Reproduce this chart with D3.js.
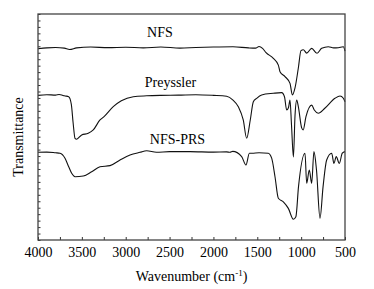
<!DOCTYPE html>
<html>
<head>
<meta charset="utf-8">
<script src="https://cdn.jsdelivr.net/npm/d3@7"></script>
<style>
  body { margin: 0; background: #fff; }
</style>
</head>
<body>
<div id="content"></div>
<script>
// FT-IR spectra, [wavenumber (cm-1), transmittance (a.u.)]
const nfs = [[4000,84.6],[3900,85.0],[3800,85.2],[3700,84.9],[3640,84.3],[3560,85.0],[3400,85.4],[3200,85.1],
  [3000,85.3],[2800,85.0],[2600,85.4],[2381,84.9],[2200,85.2],[2000,85.4],[1777,85.5],[1600,85.0],[1520,84.9],
  [1480,85.6],[1440,84.8],[1400,82.9],[1317,80.4],[1260,77.4],[1241,74.5],[1184,72.3],[1127,69.3],[1100,64.2],[1070,67.3],
  [1032,76.1],[1002,83.8],[975,84.2],[937,82.7],[880,84.8],[819,82.6],[766,84.8],[690,85.5],[630,85.0],
  [576,85.1],[519,85.5],[500,83.6]];

const preyssler = [[4000,64.0],[3900,64.3],[3800,64.1],[3760,64.4],[3730,64.2],[3700,63.8],[3650,63.4],
  [3620,60.0],[3600,52.0],[3578,45.0],[3560,44.6],[3502,46.5],[3427,47.2],[3370,48.7],[3293,53.1],[3250,54.5],
  [3142,59.0],[3050,61.6],[2914,63.4],[2761,63.8],[2600,64.0],[2400,64.1],[2200,64.3],[2000,64.0],[1850,63.6],
  [1777,61.9],[1716,59.0],[1660,53.1],[1621,45.0],[1580,53.1],[1545,61.2],[1507,62.7],[1450,64.2],[1317,64.9],
  [1222,65.2],[1190,63.4],[1165,57.5],[1145,58.5],[1127,61.9],[1110,51.0],[1088,36.7],[1070,55.0],[1050,61.9],
  [1032,59.0],[994,49.6],[977,48.7],[945,54.6],[880,59.7],[850,57.5],[805,56.1],[730,58.3],[614,62.7],
  [557,63.7],[519,62.7],[500,61.2]];

const nfsPrs = [[4000,38.8],[3900,38.9],[3800,38.6],[3749,38.4],[3692,36.2],[3650,32.4],[3616,29.5],[3578,28.0],
  [3484,28.3],[3388,30.2],[3293,32.4],[3179,32.9],[3065,35.4],[2951,37.6],[2837,38.8],[2761,39.5],[2650,38.8],
  [2500,39.1],[2267,39.1],[2000,38.9],[1850,39.0],[1811,38.8],[1780,39.2],[1678,36.9],[1629,33.2],[1590,38.4],
  [1560,38.4],[1480,38.6],[1375,38.4],[1336,36.2],[1298,28.0],[1260,18.5],[1203,16.9],[1146,14.0],[1089,9.2],
  [1060,10.3],[1030,23.6],[956,38.4],[937,25.1],[907,31.0],[880,25.1],[854,39.1],[825,31.0],[785,9.6],
  [750,23.6],[709,35.4],[652,38.4],[626,33.9],[600,36.9],[565,33.9],[531,38.4],[500,39.1]];

const seriesNames = ["NFS", "Preyssler", "NFS-PRS"];
const xTickLabels = [4000, 3500, 3000, 2500, 2000, 1500, 1000, 500];

const W = 374, H = 289;
const margin = {left: 38, right: 29, top: 14, bottom: 49};
const FONT = "'Liberation Serif', 'Times New Roman', Times, serif";

const svg = d3.select("#content").append("svg")
    .attr("width", W).attr("height", H)
    .attr("font-family", FONT);

const x = d3.scaleLinear().domain([4000, 500]).range([margin.left, W - margin.right]);
const y = d3.scaleLinear().domain([0, 100]).range([H - margin.bottom, margin.top]);

const line = d3.line()
    .x(d => x(d[0]))
    .y(d => y(d[1]))
    .curve(d3.curveMonotoneX);

const series = [nfs, preyssler, nfsPrs];
svg.selectAll(".spec")
    .data(series)
    .enter()
        .append("path")
        .attr("class", "spec")
        .attr("fill", "none")
        .attr("stroke", "#111")
        .attr("stroke-width", 1.1)
        .attr("d", d => line(d.slice().reverse()));

// series labels, placed above each baseline
const labelAt = [[2610, 89.8], [2490, 67.9], [2410, 42.4]];
svg.selectAll(".lab")
    .data(seriesNames)
    .enter()
        .append("text")
        .attr("class", "lab")
        .attr("x", (d, i) => x(labelAt[i][0]))
        .attr("y", (d, i) => y(labelAt[i][1]))
        .attr("text-anchor", "middle")
        .attr("font-family", FONT)
        .attr("font-size", 14)
        .text(d => d);

// bottom axis: minor ticks every 250, labels every 500
const xAxis = d3.axisBottom(x)
    .tickValues(d3.range(4000, 499, -250))
    .tickSize(-3)
    .tickPadding(7)
    .tickFormat(d => xTickLabels.includes(d) ? d : "");
const gx = svg.append("g")
    .attr("transform", "translate(0," + (H - margin.bottom) + ")")
    .call(xAxis);
gx.attr("font-family", FONT);
gx.select(".domain").remove();
gx.selectAll("line").attr("stroke", "#333");
gx.selectAll("text")
    .attr("font-size", 14)
    .attr("fill", "#000")
    .attr("font-family", FONT);

// left axis: unlabeled small ticks
const yAxis = d3.axisLeft(y)
    .tickValues(d3.range(0, 100.01, 100 / 35))
    .tickSize(-2.5)
    .tickFormat("");
const gy = svg.append("g")
    .attr("transform", "translate(" + margin.left + ",0)")
    .call(yAxis);
gy.select(".domain").remove();
gy.selectAll("line").attr("stroke", "#333");

// frame
svg.append("rect")
    .attr("x", margin.left).attr("y", margin.top)
    .attr("width", W - margin.left - margin.right)
    .attr("height", H - margin.top - margin.bottom)
    .attr("fill", "none")
    .attr("stroke", "#444")
    .attr("stroke-width", 1.3);

// axis titles
const xt = svg.append("text")
    .attr("x", (margin.left + W - margin.right) / 2)
    .attr("y", 281)
    .attr("text-anchor", "middle")
    .attr("font-family", FONT)
    .attr("font-size", 14);
xt.append("tspan").text("Wavenumber (cm");
xt.append("tspan").attr("dy", -5).attr("font-size", 9).text("-1");
xt.append("tspan").attr("dy", 5).text(")");

svg.append("text")
    .attr("transform", "translate(23,137) rotate(-90)")
    .attr("text-anchor", "middle")
    .attr("font-family", FONT)
    .attr("font-size", 14)
    .text("Transmittance");
</script>
</body>
</html>
